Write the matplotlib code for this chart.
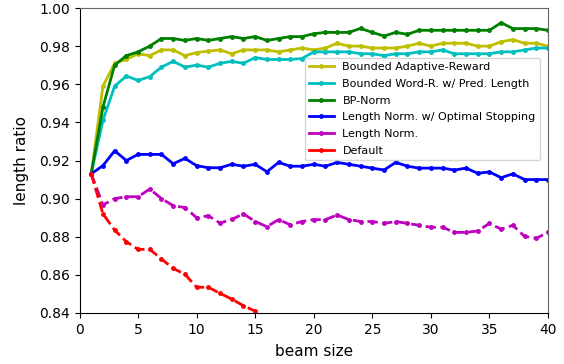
import numpy as np
import matplotlib
matplotlib.use('Agg')
import matplotlib.pyplot as plt
from matplotlib.lines import Line2D

# beam sizes 1..40
beam = list(range(1, 41))

bounded_adaptive = [0.913, 0.959, 0.971, 0.973, 0.976, 0.975, 0.978, 0.978, 0.975, 0.9766,
                    0.9774, 0.978, 0.976, 0.978, 0.978, 0.978, 0.977, 0.978, 0.979, 0.978,
                    0.979, 0.9815, 0.980, 0.980, 0.979, 0.979, 0.979, 0.980, 0.9815, 0.980,
                    0.9815, 0.9815, 0.9815, 0.980, 0.980, 0.9823, 0.9834, 0.9815, 0.9815, 0.980]

bounded_word = [0.913, 0.941, 0.959, 0.9643, 0.962, 0.964, 0.969, 0.972, 0.969, 0.970,
                0.969, 0.971, 0.972, 0.971, 0.974, 0.973, 0.973, 0.973, 0.9735, 0.977,
                0.977, 0.977, 0.977, 0.976, 0.976, 0.975, 0.976, 0.976, 0.977, 0.977,
                0.978, 0.976, 0.976, 0.976, 0.976, 0.977, 0.977, 0.978, 0.979, 0.979]

bp_norm = [0.913, 0.948, 0.970, 0.975, 0.977, 0.980, 0.984, 0.984, 0.983, 0.984,
           0.983, 0.984, 0.985, 0.984, 0.985, 0.983, 0.984, 0.985, 0.985, 0.9865,
           0.9872, 0.9872, 0.9872, 0.9893, 0.9872, 0.9853, 0.9872, 0.9862, 0.9883, 0.9883,
           0.9883, 0.9883, 0.9883, 0.9883, 0.9883, 0.9923, 0.9892, 0.9892, 0.9892, 0.9883]

len_norm_stop = [0.913, 0.9173, 0.9251, 0.920, 0.9232, 0.9232, 0.9232, 0.9183, 0.9211, 0.9173,
                 0.9162, 0.9162, 0.918, 0.917, 0.918, 0.9141, 0.919, 0.917, 0.917, 0.918,
                 0.917, 0.919, 0.918, 0.917, 0.916, 0.915, 0.919, 0.917, 0.916, 0.916,
                 0.916, 0.915, 0.916, 0.9133, 0.914, 0.911, 0.913, 0.910, 0.910, 0.910]

len_norm = [0.913, 0.8967, 0.900, 0.901, 0.901, 0.905, 0.900, 0.8963, 0.8953, 0.890,
            0.891, 0.8872, 0.8891, 0.892, 0.888, 0.8853, 0.889, 0.8863, 0.888, 0.889,
            0.889, 0.8914, 0.889, 0.888, 0.888, 0.887, 0.888, 0.887, 0.886, 0.885,
            0.885, 0.8823, 0.8823, 0.883, 0.887, 0.884, 0.886, 0.8802, 0.8792, 0.8823]

# default drops below the plotted range after beam 15
default_beam = list(range(1, 18))
default = [0.913, 0.892, 0.8835, 0.8774, 0.8734, 0.8734, 0.8683, 0.8634, 0.8603, 0.8535,
           0.8535, 0.8503, 0.8473, 0.8438, 0.841, 0.838, 0.835]

labels = ['Bounded Adaptive-Reward', 'Bounded Word-R. w/ Pred. Length', 'BP-Norm',
          'Length Norm. w/ Optimal Stopping', 'Length Norm.', 'Default']
colors = ['y', 'c', 'g', 'b', 'm', 'r']

fig = plt.figure(figsize=(5.64, 3.64), dpi=100)
ax = fig.add_axes([79.5 / 564, 51 / 364, 468.5 / 564, 305 / 364])

ax.plot(beam, bounded_adaptive, '-', color='y', marker='.', ms=5, lw=2)
ax.plot(beam, bounded_word, '-', color='c', marker='.', ms=5, lw=2)
ax.plot(beam, bp_norm, '-', color='g', marker='.', ms=5, lw=2)
ax.plot(beam, len_norm_stop, '-', color='b', marker='.', ms=5, lw=2)
ax.plot(beam, len_norm, '--', color='m', marker='.', ms=5, lw=2)
ax.plot(default_beam, default, '--', color='r', marker='.', ms=5, lw=2)

ax.set_xlim(0, 40)
ax.set_ylim(0.84, 1.00)
ax.set_yticks(np.arange(0.84, 1.001, 0.02))
ax.set_yticklabels(['%.2f' % v for v in np.arange(0.84, 1.001, 0.02)])
ax.set_xlabel('beam size', fontsize=11, labelpad=5)
ax.set_ylabel('length ratio', fontsize=11, labelpad=7)
ax.tick_params(labelsize=10)
ax.spines['top'].set_color('#666666')
ax.spines['right'].set_color('#666666')

handles = [Line2D([], [], color=c, marker='.', ms=5, lw=2) for c in colors]
ax.legend(handles, labels, loc='upper right', bbox_to_anchor=(0.995, 0.855),
          fontsize=8, handlelength=2.2, labelspacing=0.6)

fig.savefig('out.png', dpi=100)
